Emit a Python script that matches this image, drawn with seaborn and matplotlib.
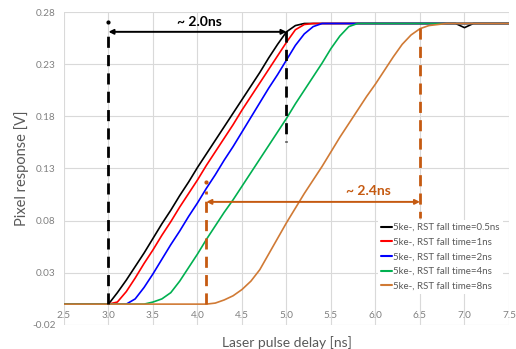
import numpy as np
import pandas as pd
import matplotlib
matplotlib.use('Agg')
import matplotlib.pyplot as plt
import seaborn as sns

# data (x step 0.1 ns)
delay = np.round(np.arange(2.5, 7.55, 0.1), 1)

v_05ns = [0.0]*6 + [0.011, 0.023, 0.036, 0.049, 0.063, 0.077, 0.090, 0.104, 0.117, 0.131, 0.144,
                    0.157, 0.170, 0.183, 0.196, 0.209, 0.222, 0.236, 0.249, 0.261, 0.267, 0.269] \
         + [0.269]*17 + [0.265] + [0.269]*5
v_1ns = [0.0]*6 + [0.002, 0.012, 0.025, 0.039, 0.052, 0.066, 0.079, 0.093, 0.106, 0.119, 0.133,
                   0.146, 0.159, 0.172, 0.186, 0.199, 0.212, 0.225, 0.238, 0.251, 0.263, 0.268] \
        + [0.269]*23
v_2ns = [0.0]*8 + [0.005, 0.016, 0.029, 0.043, 0.057, 0.070, 0.084, 0.097, 0.111, 0.124, 0.138,
                   0.151, 0.165, 0.179, 0.193, 0.207, 0.220, 0.234, 0.248, 0.259, 0.266, 0.269] \
        + [0.269]*21
v_4ns = [0.0]*10 + [0.002, 0.005, 0.011, 0.022, 0.035, 0.048, 0.062, 0.075, 0.088, 0.100, 0.113, 0.126,
                    0.139, 0.152, 0.165, 0.178, 0.192, 0.205, 0.218, 0.231, 0.245, 0.257, 0.266, 0.269] \
        + [0.269]*17
v_8ns = [0.0]*17 + [0.001, 0.004, 0.008, 0.014, 0.022, 0.033, 0.048, 0.063, 0.078, 0.092, 0.106, 0.119,
                    0.132, 0.146, 0.160, 0.173, 0.186, 0.199, 0.211, 0.224, 0.237, 0.249, 0.258, 0.264,
                    0.267, 0.268, 0.269] \
        + [0.269]*7

labels = ['5ke-, RST fall time=0.5ns', '5ke-, RST fall time=1ns', '5ke-, RST fall time=2ns',
          '5ke-, RST fall time=4ns', '5ke-, RST fall time=8ns']
colors = ['#000000', '#ff0000', '#0000ff', '#00b050', '#d07a35']
series = [v_05ns, v_1ns, v_2ns, v_4ns, v_8ns]

xticks = [2.5, 3.0, 3.5, 4.0, 4.5, 5.0, 5.5, 6.0, 6.5, 7.0, 7.5]
yticks = [-0.02, 0.03, 0.08, 0.13, 0.18, 0.23, 0.28]

df = pd.concat([pd.DataFrame({'delay': delay, 'resp': s, 'curve': lab})
                for s, lab in zip(series, labels)], ignore_index=True)

sns.set_theme(style='whitegrid')
plt.rcParams['font.family'] = ['Lato', 'DejaVu Sans']

fig = plt.figure(figsize=(5.16, 3.49), dpi=100)
ax = fig.add_axes([0.124, 0.0688, 0.8624, 0.8968])

sns.lineplot(data=df, x='delay', y='resp', hue='curve', palette=colors, hue_order=labels,
             estimator=None, sort=False, linewidth=1.2, ax=ax)

ax.set_xlim(2.5, 7.5)
ax.set_ylim(-0.02, 0.28)
ax.set_xticks(xticks)
ax.set_yticks(yticks)
ax.set_xticklabels(['%.1f' % t for t in xticks])
ax.set_yticklabels(['%.2f' % t for t in yticks])
ax.grid(True, color='#d9d9d9', linewidth=0.8)
for s in ax.spines.values():
    s.set_visible(False)
ax.spines['bottom'].set_position(('data', 0))
ax.tick_params(axis='x', length=0, pad=5, labelsize=7.2, labelcolor='#808080')
ax.tick_params(axis='y', length=0, pad=6, labelsize=7.2, labelcolor='#808080')
ax.set_xlabel('Laser pulse delay [ns]', fontsize=10, color='#595959')
ax.set_ylabel('Pixel response [V]', fontsize=10.5, color='#595959')
ax.xaxis.set_label_coords(0.5, -0.035)
ax.yaxis.set_label_coords(-0.078, 0.5)

# annotations
dark = '#000000'
orng = '#c55a11'
dash = (0, (4, 2.6))
ax.plot([3.0, 3.0], [0.0, 0.262], color=dark, lw=2, ls=dash)
ax.plot([3.0], [0.2705], 'o', color=dark, ms=2)
ax.plot([5.0, 5.0], [0.262, 0.155], color=dark, lw=2, ls=dash)
ax.annotate('', xy=(3.0, 0.261), xytext=(5.0, 0.261),
            arrowprops=dict(arrowstyle='<|-|>', color=dark, lw=1.4, mutation_scale=7,
                            shrinkA=0, shrinkB=0))
ax.text(4.02, 0.2705, '~ 2.0ns', color=dark, fontsize=10, fontweight='bold',
        ha='center', va='center')

ax.plot([4.1, 4.1], [0.0, 0.108], color=orng, lw=2, ls=dash)
ax.plot([4.1], [0.117], 'o', color=orng, ms=2)
ax.plot([6.5, 6.5], [0.265, 0.083], color=orng, lw=2, ls=dash)
ax.annotate('', xy=(4.1, 0.098), xytext=(6.5, 0.098),
            arrowprops=dict(arrowstyle='<|-|>', color=orng, lw=1.4, mutation_scale=7,
                            shrinkA=0, shrinkB=0))
ax.text(5.92, 0.108, '~ 2.4ns', color=orng, fontsize=10, fontweight='bold',
        ha='center', va='center')

leg = ax.legend(loc='upper left', bbox_to_anchor=(0.705, 0.335), fontsize=7.0, frameon=True,
                facecolor='white', edgecolor='none', framealpha=1, fancybox=False,
                handlelength=1.2, handletextpad=0.12, labelspacing=0.58, borderpad=0.3,
                borderaxespad=0)
for t in leg.get_texts():
    t.set_color('#595959')
for h in leg.get_lines():
    h.set_linewidth(1.5)

fig.savefig('out.png', dpi=100)
